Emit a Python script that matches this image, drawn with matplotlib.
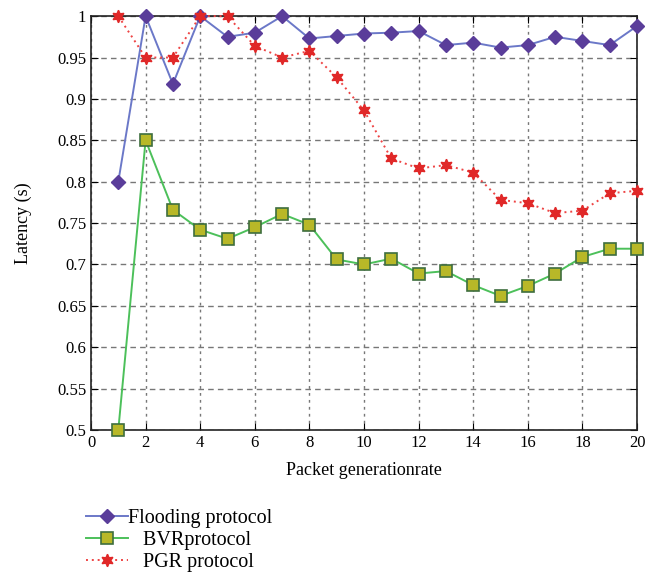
import matplotlib
matplotlib.use("Agg")
import matplotlib.pyplot as plt

plt.rcParams['font.family'] = ['Liberation Serif', 'DejaVu Serif']

x = list(range(1, 21))
flooding = [0.80, 1.0, 0.918, 1.0, 0.975, 0.98, 1.0, 0.973, 0.976, 0.979,
            0.98, 0.982, 0.965, 0.968, 0.962, 0.965, 0.975, 0.970, 0.965, 0.988]
bvr = [0.50, 0.85, 0.766, 0.742, 0.731, 0.745, 0.761, 0.748, 0.706, 0.700,
       0.707, 0.689, 0.692, 0.675, 0.662, 0.674, 0.689, 0.709, 0.719, 0.719]
pgr = [1.0, 0.95, 0.95, 1.0, 1.0, 0.964, 0.95, 0.958, 0.926, 0.886,
       0.828, 0.816, 0.820, 0.811, 0.778, 0.774, 0.762, 0.765, 0.786, 0.789]
xticks = list(range(0, 21, 2))
yticks = [0.5, 0.55, 0.6, 0.65, 0.7, 0.75, 0.8, 0.85, 0.9, 0.95, 1.0]
ytick_labels = ['0.5', '0.55', '0.6', '0.65', '0.7', '0.75', '0.8', '0.85', '0.9', '0.95', '1']

fig = plt.figure(figsize=(6.5, 5.76), dpi=100)
ax = fig.add_axes([0.14, 0.2535, 0.84, 0.7185])

l1, = ax.plot(x, flooding, color='#6b78c8', lw=1.4, marker='D', ms=7.5,
              markerfacecolor='#5a3d9a', markeredgecolor='#5a3d9a', clip_on=False, zorder=5)
l2, = ax.plot(x, bvr, color='#4cc05a', lw=1.4, marker='s', ms=8,
              markerfacecolor='#b8b828', markeredgecolor='#3e6e3e', markeredgewidth=1.2,
              clip_on=False, zorder=4)
l3, = ax.plot(x, pgr, color='#ee4444', lw=1.4, ls=(0, (1, 2)), marker=(6, 1, 0), ms=9,
              markerfacecolor='#e02828', markeredgecolor='#e02828', clip_on=False, zorder=6)

ax.set_xlim(0, 20)
ax.set_ylim(0.5, 1.0)
ax.set_xticks(xticks)
ax.set_yticks(yticks)
ax.set_yticklabels(ytick_labels)
ax.tick_params(direction='in', top=True, right=True, labelsize=12, length=5)
ax.xaxis.grid(True, color='#777777', ls=(0, (2, 3)), lw=1.0)
ax.yaxis.grid(True, color='#777777', ls=(0, (4, 3)), lw=1.0)
for s in ax.spines.values():
    s.set_linewidth(1.2)
    s.set_color('#222222')
ax.set_xlabel('Packet generationrate', fontsize=13, labelpad=8)
ax.set_ylabel('Latency (s)', fontsize=13, labelpad=18)

fig.legend([l1, l2, l3], ['Flooding protocol', '   BVRprotocol', '   PGR protocol'],
           loc='upper left', bbox_to_anchor=(0.133, 0.117), frameon=False,
           fontsize=14.5, handlelength=2.05, handletextpad=0.0, labelspacing=0.15,
           borderaxespad=0, borderpad=0)

fig.savefig('out.png', dpi=100)
